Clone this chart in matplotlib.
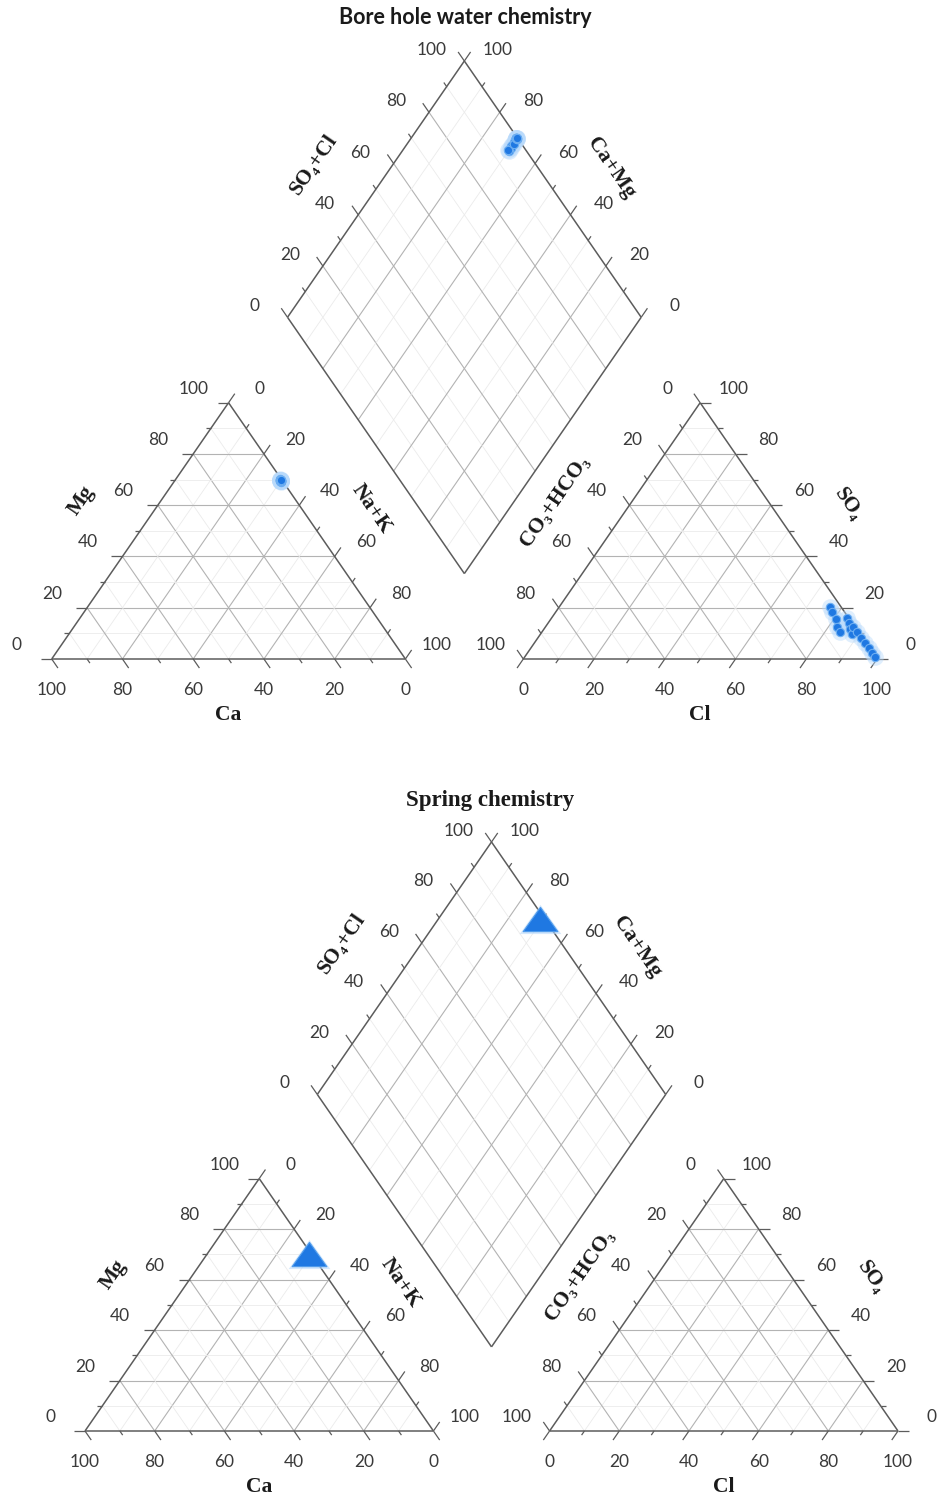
import numpy as np
import matplotlib
matplotlib.use("Agg")
import matplotlib.pyplot as plt
from matplotlib.path import Path

# ---------------------------------------------------------------------------
# Major ion composition (% of meq/L)
# ---------------------------------------------------------------------------
# Bore holes: cations
bh_ca = [0.6, 0.4, 0.5, 0.7, 0.3, 0.6, 0.4, 0.5, 0.7, 0.3, 0.5, 0.4, 0.6, 0.4, 0.5, 0.3]
bh_mg = [69.6, 69.9, 69.4, 69.2, 70.1, 69.7, 69.8, 69.5, 69.3, 70.0, 69.7, 69.6, 69.4, 69.9, 69.6, 69.8]
bh_nak = [29.8, 29.7, 30.1, 30.1, 29.6, 29.7, 29.8, 30.0, 30.0, 29.7, 29.8, 30.0, 30.0, 29.7, 29.9, 29.9]
# Bore holes: anions
bh_hco3 = [3.1, 3.4, 3.9, 5.1, 5.1, 0.5, 1.1, 1.7, 2.2, 0.4, 0.4, 0.3, 0.3, 0.3, 0.2, 0.2]
bh_so4 = [20.4, 18.5, 15.6, 12.6, 10.7, 16.1, 13.9, 11.7, 9.6, 12.6, 10.4, 8.3, 6.1, 4.2, 2.2, 0.9]
bh_cl = [76.5, 78.1, 80.5, 82.3, 84.2, 83.4, 85.0, 86.6, 88.2, 87.0, 89.2, 91.4, 93.6, 95.5, 97.6, 98.9]

# Spring
sp_ca = [0.8]
sp_mg = [70.0]
sp_nak = [29.2]
sp_hco3 = [1.2]
sp_so4 = [5.0]
sp_cl = [93.8]

tick_values = [0, 20, 40, 60, 80, 100]
tick_labels = ["0", "20", "40", "60", "80", "100"]

# ---------------------------------------------------------------------------
W, H, DPI = 938, 1497, 100
GAP = 1.0 / 3.0
SQ = np.sqrt(3) / 2
XMAX = 2 + GAP
YMAX = SQ * (2 + GAP)

EDGE = "#5c5c5c"
GRID_MAJ = "#b3b3b3"
GRID_MIN = "#ebebeb"
TICK_TXT = "#3a3a3a"
BLUE = "#1f78e2"
HALO = "#b9dafb"

SANS = ["Lato", "DejaVu Sans"]
SERIF = ["Liberation Serif", "DejaVu Serif"]

fig = plt.figure(figsize=(W / DPI, H / DPI), dpi=DPI)

# vertices
V_ca = np.array([0.0, 0.0])
V_nak = np.array([1.0, 0.0])
V_mg = np.array([0.5, SQ])
V_hco3 = np.array([1 + GAP, 0.0])
V_cl = np.array([2 + GAP, 0.0])
V_so4 = np.array([1.5 + GAP, SQ])
B = np.array([1 + GAP / 2, GAP * SQ])
U_a = np.array([0.5, SQ])    # towards SO4+Cl = 100
U_c = np.array([-0.5, SQ])   # towards Ca+Mg = 100
D_L, D_T, D_R = B + U_c, B + U_a + U_c, B + U_a


def tern_xy(v0, v1, v2, p0, p1, p2):
    p0, p1, p2 = (np.asarray(p, float) for p in (p0, p1, p2))
    t = p0 + p1 + p2
    w = np.stack([p0 / t, p1 / t, p2 / t], axis=1)
    pts = w @ np.stack([v0, v1, v2])
    return pts[:, 0], pts[:, 1]


def diamond_xy(camg, so4cl):
    camg = np.asarray(camg, float) / 100
    so4cl = np.asarray(so4cl, float) / 100
    pts = B + np.outer(so4cl, U_a) + np.outer(camg, U_c)
    return pts[:, 0], pts[:, 1]


def make_piper(px_left, px_right, px_top, px_bottom):
    ax = fig.add_axes([px_left / W, 1 - px_bottom / H,
                       (px_right - px_left) / W, (px_bottom - px_top) / H])
    ax.set_xlim(0, XMAX)
    ax.set_ylim(0, YMAX)
    ax.axis("off")
    sx = (px_right - px_left) / XMAX
    sy = (px_bottom - px_top) / YMAX

    def seg(p, q, **kw):
        ax.plot([p[0], q[0]], [p[1], q[1]], solid_capstyle="butt",
                clip_on=False, **kw)

    def unit_px(d, length_px):
        d = np.asarray(d, float)
        n = np.hypot(d[0] * sx, d[1] * sy)
        return d / n * length_px

    fr = np.arange(1, 10) / 10.0
    # ---- triangle grids
    for V in ((V_ca, V_nak, V_mg), (V_hco3, V_cl, V_so4)):
        for f in fr:
            major = abs(f * 10 % 2) < 1e-6
            for i in range(3):
                vi, vj, vk = V[i], V[(i + 1) % 3], V[(i + 2) % 3]
                seg(f * vi + (1 - f) * vj, f * vi + (1 - f) * vk,
                    color=GRID_MAJ if major else GRID_MIN,
                    lw=0.8 if major else 0.6, zorder=1)
        for i in range(3):
            seg(V[i], V[(i + 1) % 3], color=EDGE, lw=1.1, zorder=3)
    # ---- diamond grid
    for f in fr:
        major = abs(f * 10 % 2) < 1e-6
        kw = dict(color=GRID_MAJ if major else GRID_MIN,
                  lw=0.8 if major else 0.6, zorder=1)
        seg(B + f * U_a, B + f * U_a + U_c, **kw)
        seg(B + f * U_c, B + f * U_c + U_a, **kw)
    for p, q in ((B, D_L), (D_L, D_T), (D_T, D_R), (D_R, B)):
        seg(p, q, color=EDGE, lw=1.1, zorder=3)

    # ---- ticks and tick labels
    def edge_axis(p_of_f, outward, offset):
        for k in range(11):
            f = k / 10
            p = p_of_f(f)
            L = 11 if k % 2 == 0 else 5
            seg(p, p + unit_px(outward, L), color=EDGE, lw=0.9, zorder=3)
        for v, lab in zip(tick_values, tick_labels):
            p = p_of_f(v / 100)
            ax.annotate(lab, xy=p, xytext=offset, textcoords="offset pixels",
                        ha="center", va="center", fontsize=12.5,
                        color=TICK_TXT, family=SANS, annotation_clip=False)

    edge_axis(lambda f: f * V_mg + (1 - f) * V_ca, V_ca - V_nak, (-35, 14))
    edge_axis(lambda f: f * V_ca + (1 - f) * V_nak, V_nak - V_mg, (0, -31))
    edge_axis(lambda f: f * V_nak + (1 - f) * V_mg, V_mg - V_ca, (31, 14))
    edge_axis(lambda f: f * V_cl + (1 - f) * V_hco3, V_hco3 - V_so4, (0, -31))
    edge_axis(lambda f: f * V_so4 + (1 - f) * V_cl, V_cl - V_hco3, (33, 14))
    edge_axis(lambda f: f * V_hco3 + (1 - f) * V_so4, V_so4 - V_cl, (-33, 14))
    edge_axis(lambda f: D_L + f * U_a, U_c, (-33, 11))
    edge_axis(lambda f: D_R + f * U_c, U_a, (33, 11))

    # ---- axis titles
    ang = np.degrees(np.arctan2(SQ * sy, 0.5 * sx))
    lab_kw = dict(textcoords="offset pixels", ha="center", va="center",
                  fontsize=15.5, fontweight="bold", family=SERIF,
                  color="#1a1a1a", annotation_clip=False)
    ax.annotate("Ca", xy=(V_ca + V_nak) / 2, xytext=(0, -56), **lab_kw)
    ax.annotate("Cl", xy=(V_hco3 + V_cl) / 2, xytext=(0, -56), **lab_kw)
    ax.annotate("Mg", xy=(V_ca + V_mg) / 2, xytext=(-59, 30), rotation=ang, **lab_kw)
    ax.annotate("Na+K", xy=(V_nak + V_mg) / 2, xytext=(54, 22), rotation=-ang, **lab_kw)
    ax.annotate("CO\u2083+HCO\u2083", xy=(V_hco3 + V_so4) / 2, xytext=(-57, 30),
                rotation=ang, **lab_kw)
    ax.annotate("SO\u2084", xy=(V_cl + V_so4) / 2, xytext=(60, 27), rotation=-ang, **lab_kw)
    ax.annotate("SO\u2084+Cl", xy=(D_L + D_T) / 2, xytext=(-62, 25), rotation=ang, **lab_kw)
    ax.annotate("Ca+Mg", xy=(D_T + D_R) / 2, xytext=(58, 21), rotation=-ang, **lab_kw)
    return ax


# ---------------------------------------------------------------------------
# Bore hole diagram
ax1 = make_piper(51.7, 877.0, 61.0, 659.0)
fig.text(465 / W, 1 - 18 / H, "Bore hole water chemistry", ha="center", va="center",
         fontsize=15.5, fontweight="bold", family=SANS, color="#1a1a1a")

cx, cy = tern_xy(V_ca, V_nak, V_mg, bh_ca, bh_nak, bh_mg)
axx, axy = tern_xy(V_hco3, V_cl, V_so4, bh_hco3, bh_cl, bh_so4)
dx, dy = diamond_xy(np.add(bh_ca, bh_mg), np.add(bh_so4, bh_cl))
for X, Y in ((cx, cy), (axx, axy), (dx, dy)):
    ax1.plot(X, Y, "o", ms=12, color=HALO, alpha=0.45, mec="none", zorder=4, clip_on=False)
for X, Y in ((cx, cy), (axx, axy), (dx, dy)):
    ax1.plot(X, Y, "o", ms=6, color=BLUE, mec="#6fb0f2", mew=0.8, zorder=5, clip_on=False)

# ---------------------------------------------------------------------------
# Spring diagram
ax2 = make_piper(85.0, 898.0, 842.0, 1431.0)
fig.text(490 / W, 1 - 800 / H, "Spring chemistry", ha="center", va="center",
         fontsize=16.5, fontweight="bold", family=SERIF, color="#1a1a1a")

tri = Path([(-1, -0.7), (1, -0.7), (0, 0.7), (-1, -0.7)],
           [Path.MOVETO, Path.LINETO, Path.LINETO, Path.CLOSEPOLY])
scx, scy = tern_xy(V_ca, V_nak, V_mg, sp_ca, sp_nak, sp_mg)
sdx, sdy = diamond_xy(np.add(sp_ca, sp_mg), np.add(sp_so4, sp_cl))
# the spring anion field carries no symbol
for X, Y in ((scx, scy), (sdx, sdy)):
    ax2.plot(X, Y, marker=tri, ls="none", ms=30, color=HALO, alpha=0.6, mec="none", zorder=4)
    ax2.plot(X, Y, marker=tri, ls="none", ms=25, color=BLUE, mec="#4f9bec", mew=0.8, zorder=5)

fig.savefig("out.png", dpi=DPI)
